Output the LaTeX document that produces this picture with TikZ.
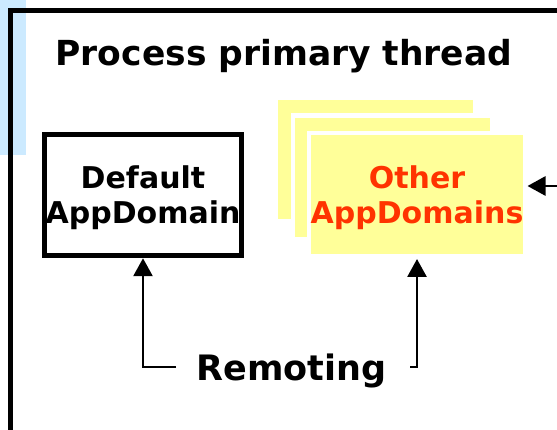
\documentclass[tikz,border=0pt]{standalone}
\usepackage{fontspec}
\setmainfont{DejaVu Sans}
\usetikzlibrary{arrows.meta}
\definecolor{paleblue}{RGB}{204,234,255}
\definecolor{paleyellow}{RGB}{255,255,153}
\definecolor{hotorange}{RGB}{255,51,0}
\tikzset{
  frame/.style={line width=5pt},
  plainbox/.style={draw=black, line width=5pt, fill=white, inner sep=0pt,
    minimum width=197.5pt, minimum height=121.5pt, align=center, text depth=0pt,
    font=\fontsize{30}{35}\selectfont\bfseries},
  stackbox/.style={draw=white, line width=4.5pt, fill=paleyellow, inner sep=0pt,
    minimum height=123.5pt, align=center, text depth=0pt,
    font=\fontsize{30}{35}\selectfont\bfseries},
  heading/.style={font=\fontsize{34.5}{40}\selectfont\bfseries, inner sep=0pt, anchor=base},
  arr/.style={line width=2.8pt, -{Triangle[length=18pt,width=19pt]}},
}
\begin{document}
\begin{tikzpicture}[x=1pt,y=-1pt]
  \useasboundingbox (0,0) rectangle (557,430);
  % pale blue tab behind the frame
  \fill[paleblue] (0,0) rectangle (26,155);
  % outer frame, running off the right and bottom edges
  \begin{scope}
    \clip (0,0) rectangle (557,430);
    \draw[frame] (10,11) rectangle (620,480);
  \end{scope}
  \node[heading] (title) at (284,66) {Process primary thread};
  % default domain
  \node[plainbox] (def) at (143,195) {Default\\AppDomain};
  % stacked other domains
  \node[stackbox, minimum width=199.5pt] (back) at (375.5,159.5) {};
  \node[stackbox, minimum width=199.5pt] (mid) at (392.5,177.5) {};
  \node[stackbox, minimum width=216.5pt, text=hotorange] (oth) at (417,195) {Other\\AppDomains};
  % remoting label and its connectors
  \node[heading, font=\fontsize{35}{40}\selectfont\bfseries] (rem) at (291.5,380) {Remoting};
  \coordinate (rl) at (176,367);
  \coordinate (rr) at (410,367);
  \coordinate (rin) at (557,186);
  \draw[arr] (rl) -| (def.south);
  \draw[arr] (rr) -| (oth.south);
  \draw[arr] (rin) -- (rin -| oth.east);
\end{tikzpicture}
\end{document}
